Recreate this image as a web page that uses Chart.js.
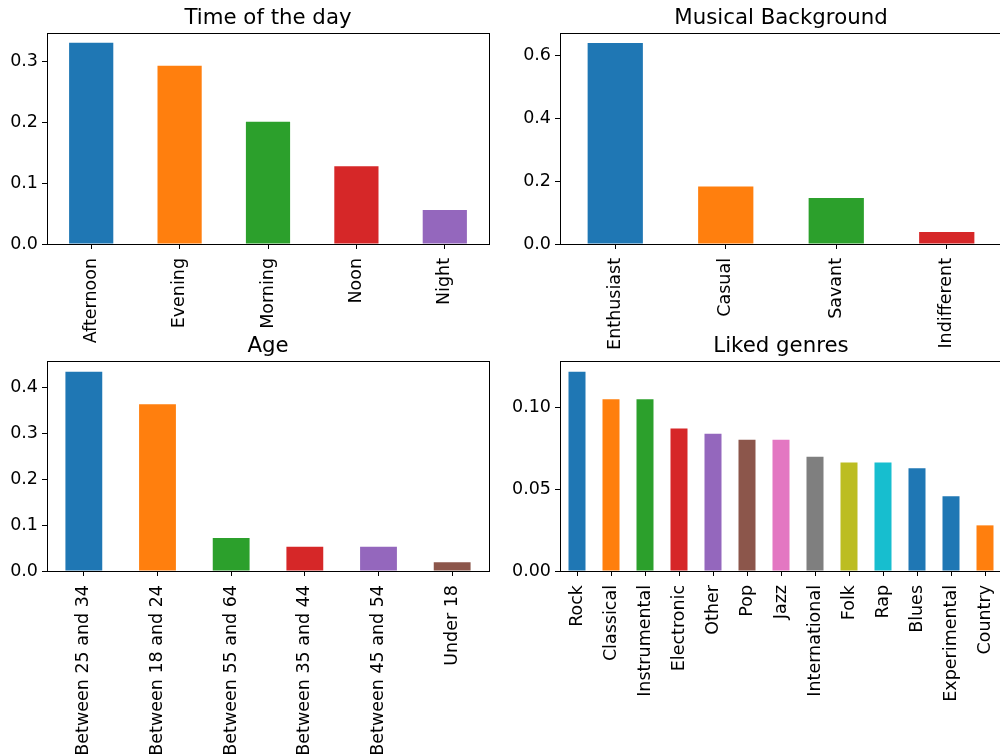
<!DOCTYPE html>
<html>
<head>
<meta charset="utf-8">
<script src="https://cdn.jsdelivr.net/npm/chart.js@4"></script>
<style>
    html, body { margin: 0; padding: 0; background: #fff; overflow: hidden; width: 1000px; height: 756px; }
    .layer { position: absolute; left: 0; top: 0; width: 1010px; height: 756px; }
</style>
</head>
<body>
<div class="layer"><canvas id="timeChart"></canvas></div>
<div class="layer"><canvas id="backgroundChart"></canvas></div>
<div class="layer"><canvas id="ageChart"></canvas></div>
<div class="layer"><canvas id="genresChart"></canvas></div>
<script>
const timeLabels = ['Afternoon', 'Evening', 'Morning', 'Noon', 'Night'];
const timeValues = [0.331, 0.293, 0.201, 0.128, 0.056];

const backgroundLabels = ['Enthusiast', 'Casual', 'Savant', 'Indifferent'];
const backgroundValues = [0.639, 0.183, 0.146, 0.038];

const ageLabels = ['Between 25 and 34', 'Between 18 and 24', 'Between 55 and 64', 'Between 35 and 44', 'Between 45 and 54', 'Under 18'];
const ageValues = [0.435, 0.364, 0.072, 0.053, 0.053, 0.019];

const genreLabels = ['Rock', 'Classical', 'Instrumental', 'Electronic', 'Other', 'Pop', 'Jazz', 'International', 'Folk', 'Rap', 'Blues', 'Experimental', 'Country'];
const genreValues = [0.1218, 0.105, 0.105, 0.0872, 0.0839, 0.0803, 0.0803, 0.0699, 0.0664, 0.0664, 0.0628, 0.0457, 0.0279];

const tab10 = ['#1f77b4', '#ff7f0e', '#2ca02c', '#d62728', '#9467bd', '#8c564b', '#e377c2', '#7f7f7f', '#bcbd22', '#17becf'];
const genreColors = tab10.concat(['#1f77b4', '#1f77b4', '#ff7f0e']);

const W = 1010, H = 756;
const Y_AXIS_W = 50;
const FONT = 'DejaVu Sans';

// title + full box around the axes, like matplotlib spines
const framePlugin = {
    id: 'frame',
    afterDraw(chart, args, opts) {
        const ctx = chart.ctx;
        const a = chart.chartArea;
        ctx.save();
        ctx.strokeStyle = '#000';
        ctx.lineWidth = 1;
        ctx.strokeRect(Math.round(a.left) + 0.5, Math.round(a.top) + 0.5,
            Math.round(a.right - a.left), Math.round(a.bottom - a.top));
        ctx.fillStyle = '#000';
        ctx.font = '21.3px "' + FONT + '"';
        ctx.textAlign = 'center';
        ctx.textBaseline = 'alphabetic';
        ctx.fillText(opts.text, (a.left + a.right) / 2, a.top - 9.5);
        ctx.restore();
    }
};

function makeChart(id, labels, values, colors, title, box, yMax, step, decimals) {
    const ctx = document.getElementById(id).getContext('2d');
    // x axis box runs to the bottom of the canvas so the rotated labels are not clipped
    const xAxisH = H - box.bottom;
    return new Chart(ctx, {
        type: 'bar',
        data: {
            labels: labels,
            datasets: [{
                data: values,
                backgroundColor: colors,
                barPercentage: 0.5,
                categoryPercentage: 1.0
            }]
        },
        plugins: [framePlugin],
        options: {
            responsive: false,
            animation: false,
            devicePixelRatio: 1,
            layout: {
                padding: {
                    left: box.left - Y_AXIS_W,
                    right: W - box.right,
                    top: box.top,
                    bottom: 0
                }
            },
            plugins: {
                legend: { display: false },
                tooltip: { enabled: false },
                frame: { text: title }
            },
            scales: {
                x: {
                    afterFit: scale => {
                        scale.height = xAxisH;
                        scale.paddingLeft = 0;
                        scale.paddingRight = 0;
                    },
                    grid: { offset: false, drawOnChartArea: false, drawTicks: true, tickLength: 5, tickWidth: 1, tickColor: '#000' },
                    border: { display: false },
                    ticks: {
                        autoSkip: false,
                        minRotation: 90,
                        maxRotation: 90,
                        padding: 9,
                        color: '#000',
                        font: { family: FONT, size: 17.5 }
                    }
                },
                y: {
                    min: 0,
                    max: yMax,
                    afterFit: scale => {
                        scale.width = Y_AXIS_W;
                        scale.paddingTop = 0;
                        scale.paddingBottom = 0;
                    },
                    grid: { drawOnChartArea: false, drawTicks: true, tickLength: 5, tickWidth: 1, tickColor: '#000' },
                    border: { display: false },
                    ticks: {
                        stepSize: step,
                        includeBounds: false,
                        padding: 4,
                        color: '#000',
                        font: { family: FONT, size: 17.5 },
                        callback: v => Number(v).toFixed(decimals)
                    }
                }
            }
        }
    });
}

document.querySelectorAll('canvas').forEach(c => { c.width = W; c.height = H; });

makeChart('timeChart', timeLabels, timeValues, tab10.slice(0, 5), 'Time of the day',
    { left: 47, right: 489, top: 33, bottom: 244 }, 0.347, 0.1, 1);
makeChart('backgroundChart', backgroundLabels, backgroundValues, tab10.slice(0, 4), 'Musical Background',
    { left: 560, right: 1002, top: 33, bottom: 244 }, 0.671, 0.2, 1);
makeChart('ageChart', ageLabels, ageValues, tab10.slice(0, 6), 'Age',
    { left: 47, right: 489, top: 361, bottom: 571 }, 0.4585, 0.1, 1);
makeChart('genresChart', genreLabels, genreValues, genreColors, 'Liked genres',
    { left: 560, right: 1002, top: 361, bottom: 571 }, 0.1284, 0.05, 2);
</script>
</body>
</html>
